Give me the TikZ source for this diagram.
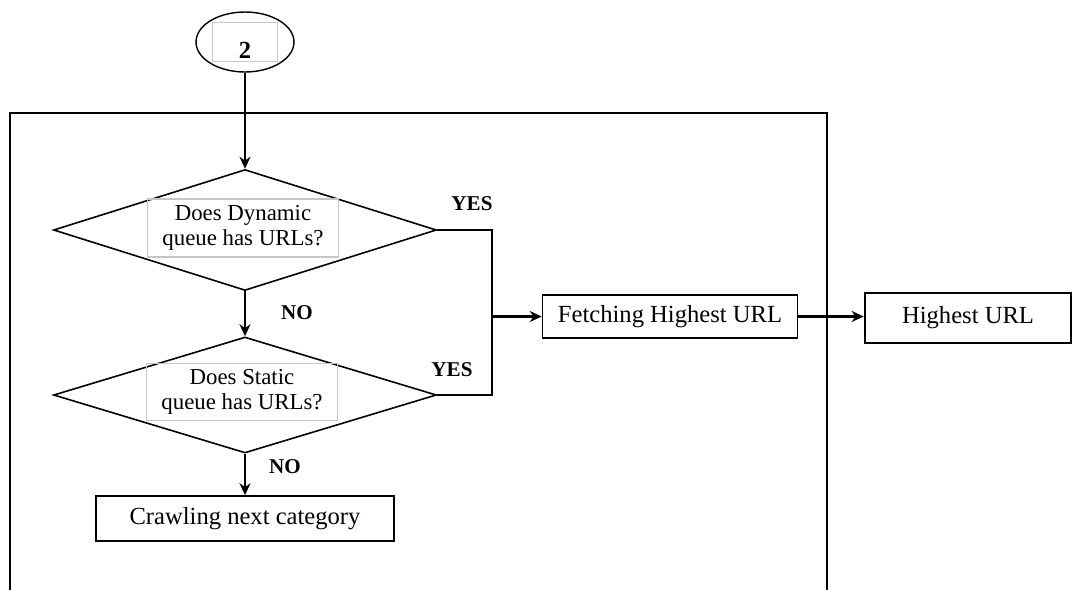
\documentclass[tikz,border=0pt]{standalone}
\usepackage{fontspec}
\setmainfont{Liberation Serif}
\usetikzlibrary{arrows.meta,shapes.geometric}

\begin{document}
\begin{tikzpicture}[
    x=0.02cm, y=-0.02cm,
    box/.style={rectangle, draw, line width=0.9pt, inner sep=0pt, font=\fontsize{14}{15}\selectfont},
    dec/.style={diamond, draw, line width=0.9pt, minimum width=7.66cm, minimum height=2.42cm, inner sep=0pt},
    qbox/.style={rectangle, draw=gray!45, line width=0.6pt, minimum width=3.82cm, minimum height=1.16cm,
                 align=center, inner sep=1pt, font=\fontsize{13}{14.2}\selectfont},
    numbox/.style={rectangle, draw=gray!45, line width=0.6pt, minimum width=1.3cm, minimum height=0.78cm,
                   inner sep=1pt, text height=18.5pt, text depth=0pt, font=\fontsize{14}{14}\selectfont\bfseries},
    lbl/.style={font=\fontsize{12}{12}\selectfont\bfseries},
    arr/.style={-{Stealth[length=2.4mm,width=2.2mm]}, line width=1pt},
    ln/.style={line width=1pt}]
\useasboundingbox (0,0) rectangle (1075,589);
% frame round the queue check, open at the bottom
\draw[line width=1.2pt] (10,600) -- (10,113) -- (827,113) -- (827,600);

\node[ellipse, draw, line width=0.8pt, minimum width=1.96cm, minimum height=1.2cm] (start) at (245,42) {};
\node[numbox] (num) at (start) {2};

\node[dec] (dyn) at (245,230) {};
\node[qbox] (dynq) at (243,228) {Does Dynamic\\queue has URLs?};
\node[dec, minimum height=2.32cm] (stat) at (245,395) {};
\node[qbox, minimum height=1.14cm] (statq) at (242,392) {Does Static\\queue has URLs?};

\node[box, minimum width=5.1cm, minimum height=0.86cm] (fetch) at (670,316.5) {Fetching Highest URL};
\node[box, line width=1.6pt, minimum width=4.12cm, minimum height=1cm] (high) at (968,318) {Highest URL};
\node[box, minimum width=5.96cm, minimum height=0.9cm] (crawl) at (245,518.5) {Crawling next category};

\node[lbl] (yes1) at (472,204) {YES};
\node[lbl] (yes2) at (452,370) {YES};
\node[lbl] (no1) at (297,313) {NO};
\node[lbl] (no2) at (285,467) {NO};

\coordinate (join) at (492,316.5);
\draw[arr] (start) -- (dyn.north);
\draw[arr] (dyn.south) -- (stat.north);
\draw[arr] (stat.south) -- (crawl.north);
\draw[ln] (dyn.east) -| (join);
\draw[ln] (stat.east) -| (join);
\draw[arr, line width=1.3pt] (join) -- (fetch.west);
\draw[arr, line width=1.3pt] (fetch.east) -- (fetch.east -| high.west);
\end{tikzpicture}
\end{document}
